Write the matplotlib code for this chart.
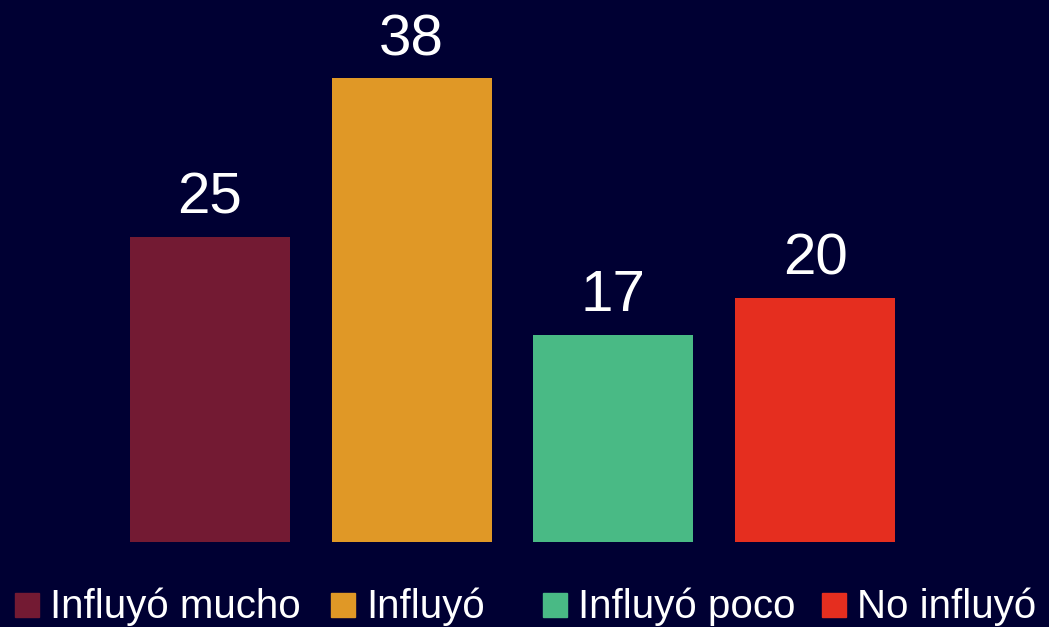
import matplotlib
matplotlib.use("Agg")
import matplotlib.pyplot as plt
from matplotlib.patches import Rectangle

categories = ["Influyó mucho", "Influyó", "Influyó poco", "No influyó"]
values = [25, 38, 17, 20]
colors = ["#731A33", "#E09826", "#49BA85", "#E52E1F"]
bg = "#000033"

plt.rcParams['font.family'] = ['Liberation Sans', 'DejaVu Sans']

W, H = 1049, 627
fig = plt.figure(figsize=(W / 100, H / 100), dpi=100, facecolor=bg)
ax = fig.add_axes([0, 85 / H, 1, 1 - 85 / H])
ax.set_facecolor(bg)

x = list(range(len(categories)))
unit = 201.67
ax.bar(x, values, width=160 / unit, color=colors)
ax.set_xlim(-210 / unit, (W - 210) / unit)
ax.set_ylim(0, 542 / 12.2)
for xi, v in zip(x, values):
    ax.annotate(str(v), (xi, v), xytext=(0, 8), textcoords="offset points",
                ha="center", va="bottom", color="white", fontsize=42)
ax.axis("off")

# legend placed manually
leg_x = [15, 331, 543, 822]
for lx, c, lab in zip(leg_x, colors, categories):
    fig.patches.append(Rectangle((lx / W, (H - 617) / H), 24 / W, 24 / H,
                                 transform=fig.transFigure, color=c))
    fig.text((lx + 35) / W, (H - 618) / H, lab, color="white", fontsize=29,
             ha="left", va="baseline")

fig.savefig("out.png", dpi=100, facecolor=bg)
